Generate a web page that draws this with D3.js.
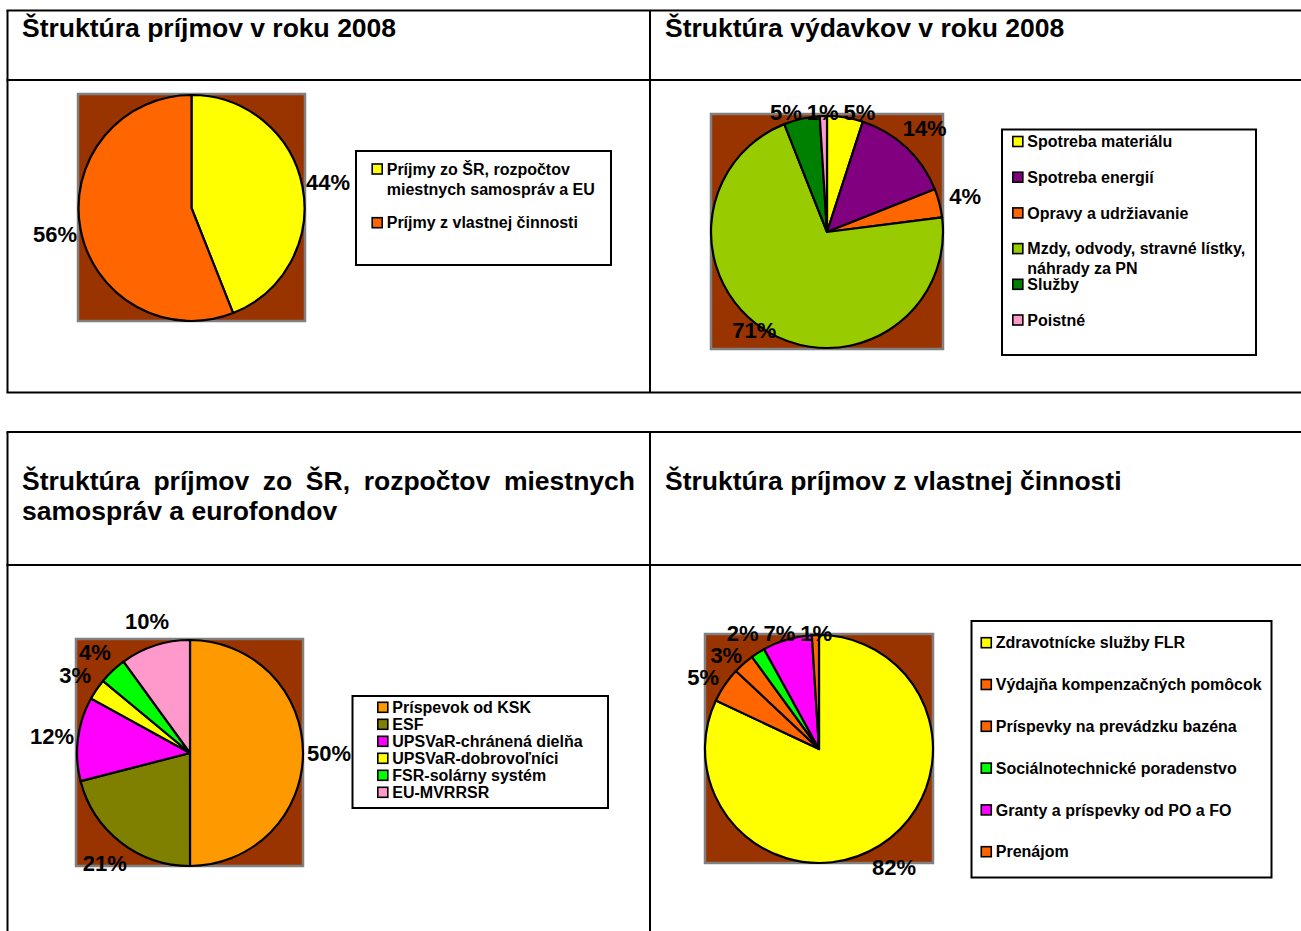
<!DOCTYPE html>
<html>
<head>
<meta charset="utf-8">
<script src="https://d3js.org/d3.v7.min.js"></script>
<style>
    body { margin: 0; background: #fff; }
    svg text { font-family: "Liberation Sans", Arial, sans-serif; font-weight: bold; fill: #000; }
</style>
</head>
<body>
<div id="chart"></div>
<script>
    // titles of the four table cells
    const titles = [
        "Štruktúra príjmov v roku 2008",
        "Štruktúra výdavkov v roku 2008",
        "Štruktúra príjmov zo ŠR, rozpočtov miestnych samospráv a eurofondov",
        "Štruktúra príjmov z vlastnej činnosti"
    ];

    // 1) income 2008
    const incomeCats = ["Príjmy zo ŠR, rozpočtov miestnych samospráv a EU", "Príjmy z vlastnej činnosti"];
    const incomeVals = [44, 56];
    const incomeColors = ["#ffff00", "#ff6600"];

    // 2) expenses 2008
    const expenseCats = ["Spotreba materiálu", "Spotreba energií", "Opravy a udržiavanie",
        "Mzdy, odvody, stravné lístky, náhrady za PN", "Služby", "Poistné"];
    const expenseVals = [5, 14, 4, 71, 5, 1];
    const expenseColors = ["#ffff00", "#800080", "#ff6600", "#99cc00", "#008000", "#ff99cc"];

    // 3) income from state, municipalities and EU funds
    const stateCats = ["Príspevok od KSK", "ESF", "UPSVaR-chránená dielňa", "UPSVaR-dobrovoľníci",
        "FSR-solárny systém", "EU-MVRRSR"];
    const stateVals = [50, 21, 12, 3, 4, 10];
    const stateColors = ["#ff9900", "#808000", "#ff00ff", "#ffff00", "#00ff00", "#ff99cc"];

    // 4) income from own activity
    const ownCats = ["Zdravotnícke služby FLR", "Výdajňa kompenzačných pomôcok", "Príspevky na prevádzku bazéna",
        "Sociálnotechnické poradenstvo", "Granty a príspevky od PO a FO", "Prenájom"];
    const ownVals = [82, 5, 3, 2, 7, 1];
    const ownColors = ["#ffff00", "#ff6600", "#ff6600", "#00ff00", "#ff00ff", "#ff6600"];

    // page layout
    const W = 1301, H = 931;
    const panels = [
        {title: titles[0], cats: incomeCats, vals: incomeVals, colors: incomeColors,
            tx: 22, ty: 37,
            plot: {x: 78, y: 94, w: 227, h: 227}, cx: 191.5, cy: 208, r: 113, labelTop: -1e9, labelBottom: 1e9,
            legend: {x: 356, y: 151, w: 255, h: 114, first: 169, last: 222.7}},
        {title: titles[1], cats: expenseCats, vals: expenseVals, colors: expenseColors,
            tx: 665, ty: 37,
            plot: {x: 711, y: 114, w: 232, h: 235}, cx: 827, cy: 232, r: 116, labelTop: 112, labelBottom: 330,
            legend: {x: 1002, y: 129.5, w: 254, h: 225.5, first: 141.5, last: 320}},
        {title: titles[2], cats: stateCats, vals: stateVals, colors: stateColors,
            tx: 22, ty: 490,
            plot: {x: 76, y: 639, w: 227, h: 227}, cx: 190, cy: 753, r: 113, labelTop: -1e9, labelBottom: 1e9,
            legend: {x: 352.5, y: 696, w: 255.5, h: 112, first: 707.3, last: 792.3}},
        {title: titles[3], cats: ownCats, vals: ownVals, colors: ownColors,
            tx: 665, ty: 490,
            plot: {x: 705, y: 634, w: 228, h: 229}, cx: 819, cy: 749, r: 114, labelTop: 633, labelBottom: 1e9,
            legend: {x: 971.5, y: 621, w: 300, h: 256.5, first: 642.7, last: 851.7}}
    ];

    var svg = d3.select("#chart").append("svg")
        .attr("width", W)
        .attr("height", H);
    svg.append("rect").attr("width", W).attr("height", H).attr("fill", "#fff");

    // table borders
    var grid = svg.append("g").attr("stroke", "#000").attr("stroke-width", 2);
    [{top: 10.5, head: 80, bottom: 392.5}, {top: 432, head: 565, bottom: H + 5}].forEach(t => {
        [t.top, t.head, t.bottom].forEach(y => {
            grid.append("line").attr("x1", 6.5).attr("x2", W + 5).attr("y1", y).attr("y2", y);
        });
        [7.5, 650].forEach(x => {
            grid.append("line").attr("x1", x).attr("x2", x).attr("y1", t.top).attr("y2", t.bottom);
        });
    });

    // split text into lines no wider than maxW
    function wrapWords(textSel, str, maxW) {
        const words = str.split(" ");
        const probe = textSel.append("tspan");
        const lines = [];
        let cur = [];
        words.forEach(w => {
            const test = cur.concat([w]).join(" ");
            probe.text(test);
            if (cur.length && probe.node().getComputedTextLength() > maxW) {
                lines.push(cur);
                cur = [w];
            } else {
                cur.push(w);
            }
        });
        lines.push(cur);
        probe.remove();
        return lines;
    }

    panels.forEach(p => {
        var g = svg.append("g");

        // title, justified when it wraps
        var title = g.append("text").attr("font-size", 26.5);
        var titleW = 613;
        var tLines = wrapWords(title, p.title, titleW);
        tLines.forEach((words, li) => {
            var y = p.ty + li * 30;
            if (li < tLines.length - 1) {
                var widths = words.map(w => {
                    var t = title.append("tspan").text(w);
                    var l = t.node().getComputedTextLength();
                    t.remove();
                    return l;
                });
                var gap = (titleW - d3.sum(widths)) / (words.length - 1);
                var x = p.tx;
                words.forEach((w, i) => {
                    title.append("tspan").attr("x", x).attr("y", y).text(w);
                    x += widths[i] + gap;
                });
            } else {
                title.append("tspan").attr("x", p.tx).attr("y", y).text(words.join(" "));
            }
        });

        // plot area
        g.append("rect")
            .attr("x", p.plot.x).attr("y", p.plot.y)
            .attr("width", p.plot.w).attr("height", p.plot.h)
            .attr("fill", "#993300")
            .attr("stroke", "#808080")
            .attr("stroke-width", 2.5);

        var data = p.cats.map((c, i) => ({cat: c, v: p.vals[i], color: p.colors[i]}));
        var pie = d3.pie().sort(null).value(d => d.v).startAngle(0).endAngle(2 * Math.PI);
        var arcs = pie(data);
        var arc = d3.arc().innerRadius(0).outerRadius(p.r);

        var pg = g.append("g").attr("transform", `translate(${p.cx}, ${p.cy})`);
        pg.selectAll("path")
            .data(arcs)
            .join("path")
            .attr("d", arc)
            .attr("fill", d => d.data.color)
            .attr("stroke", "#000")
            .attr("stroke-width", 2.2)
            .attr("stroke-linejoin", "round");

        // percentage labels just outside the pie
        var R = p.r * 1.23;
        var labelArc = d3.arc().innerRadius(R).outerRadius(R);
        var fmt = d3.format(".0%");
        var labels = pg.selectAll("text.pct")
            .data(arcs)
            .join("text")
            .attr("class", "pct")
            .attr("font-size", 22)
            .attr("text-anchor", "middle")
            .attr("dy", "0.36em")
            .text(d => fmt(d.data.v / 100));

        var top = p.labelTop - p.cy, bottom = p.labelBottom - p.cy;
        var placed = labels.nodes().map((n, i) => {
            var c = labelArc.centroid(arcs[i]);
            var mid = (arcs[i].startAngle + arcs[i].endAngle) / 2;
            return {node: n, x: c[0], y: Math.min(Math.max(c[1], top), bottom), clamped: c[1] < top, mid: mid,
                w: n.getComputedTextLength(), h: 22};
        });
        // labels held at the top edge: spread them sideways
        var row = placed.filter(d => d.clamped).sort((a, b) => a.x - b.x);
        for (var k = 0; k < 5; k++) {
            for (var i = 1; i < row.length; i++) {
                var need = (row[i].w + row[i - 1].w) / 2 + 5 - (row[i].x - row[i - 1].x);
                if (need > 0) {
                    row[i].x += need / 2;
                    row[i - 1].x -= need / 2;
                }
            }
        }
        // push overlapping labels downwards, top to bottom on each side
        var left = placed.filter(d => d.mid > Math.PI).sort((a, b) => b.mid - a.mid);
        var right = placed.filter(d => d.mid <= Math.PI).sort((a, b) => a.mid - b.mid);
        [left, right].forEach(side => {
            side.forEach((d, i) => {
                for (var j = 0; j < i; j++) {
                    var o = side[j];
                    if (Math.abs(d.x - o.x) < (d.w + o.w) * 0.9 / 2 && Math.abs(d.y - o.y) < d.h) {
                        d.y = o.y + d.h;
                    }
                }
            });
        });
        placed.forEach(d => d3.select(d.node).attr("x", d.x).attr("y", d.y));

        // legend
        var L = p.legend;
        g.append("rect")
            .attr("x", L.x).attr("y", L.y).attr("width", L.w).attr("height", L.h)
            .attr("fill", "#fff").attr("stroke", "#000").attr("stroke-width", 2);
        var yPos = d3.scalePoint().domain(p.cats).range([L.first, L.last]);
        var items = g.selectAll("g.item")
            .data(data)
            .join("g")
            .attr("class", "item");
        var texts = items.append("text").attr("font-size", 16);
        texts.each(function(d) {
            var t = d3.select(this);
            var lines = wrapWords(t, d.cat, L.w - 26.5);
            lines.forEach((words, li) => {
                t.append("tspan")
                    .attr("class", "ln")
                    .attr("x", 0)
                    .attr("y", yPos(d.cat) + li * 20)
                    .attr("dy", "0.36em")
                    .text(words.join(" "));
            });
        });
        var maxW = d3.max(texts.nodes(), n => n.getBBox().width);
        var x0 = L.x + L.w / 2 - (14.5 + maxW) / 2;
        texts.selectAll("tspan.ln").attr("x", x0 + 14.5);
        items.append("rect")
            .attr("x", x0)
            .attr("y", d => yPos(d.cat) - 5)
            .attr("width", 10)
            .attr("height", 10)
            .attr("fill", d => d.color)
            .attr("stroke", "#000")
            .attr("stroke-width", 1.6);
    });
</script>
</body>
</html>
